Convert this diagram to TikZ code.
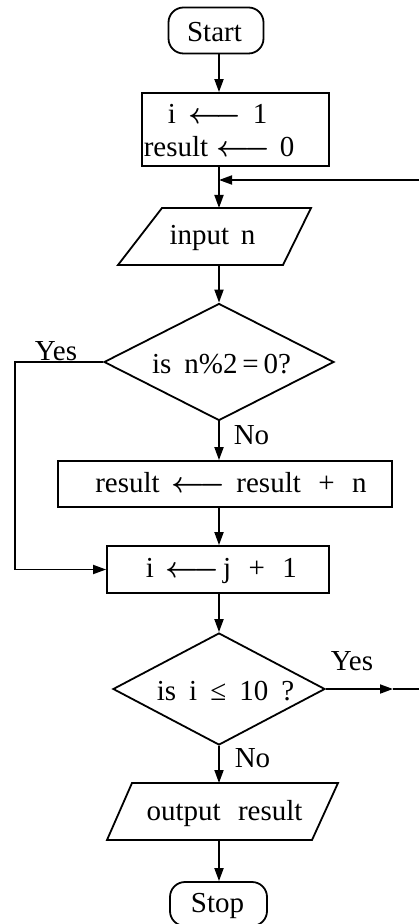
\documentclass[tikz,border=0pt]{standalone}
\usepackage{fontspec}
\setmainfont{Liberation Serif}
\usetikzlibrary{arrows.meta,shapes.geometric}
\newcommand{\asgn}{{\boldmath$\longleftarrow$}}
\begin{document}
\begin{tikzpicture}[x=0.5pt,y=-0.5pt,
 every node/.style={font=\fontsize{14.5}{17}\selectfont},
 line/.style={line width=0.9pt},
 arr/.style={line, -{Triangle[length=6.5pt,width=4.5pt]}},
 term/.style={draw, line width=0.9pt, rectangle, rounded corners=7.5pt, inner sep=0pt},
 procbox/.style={draw, line width=0.9pt, rectangle, inner sep=0pt},
 iobox/.style={draw, line width=0.9pt, line join=miter},
 decision/.style={draw, line width=0.9pt, diamond, aspect=2, inner sep=0pt},
 txt/.style={anchor=base, inner sep=0pt},
]
\useasboundingbox (0,0) rectangle (419,924);
\fill[white] (0,0) rectangle (419,924);
\coordinate (ax) at (219,0);
\coordinate (lx) at (15,0);

% shapes
\node[term, minimum width=47.5pt, minimum height=23pt] (start) at (216,30.5) {};
\node[txt] (startT) at (214.5,42) {Start};

\node[procbox, minimum width=93.5pt, minimum height=36.5pt] (init) at (235.5,129.5) {};
\node[txt] (i1) at (172,124) {i};
\node[txt] (a1) at (215,124) {\asgn};
\node[txt] (v1) at (260,124) {1};
\node[txt] (r2) at (176,157) {result};
\node[txt] (a2) at (243.5,157) {\asgn};
\node[txt] (v2) at (287,157) {0};

\coordinate (inpTL) at (162,208);
\coordinate (inpTR) at (311,208);
\coordinate (inpBR) at (283,265);
\coordinate (inpBL) at (118,265);
\draw[iobox] (inpTL) -- (inpTR) -- (inpBR) -- (inpBL) -- cycle;
\node[txt] (inpT) at (212.5,245) {input\hspace{0.4em}n};

\node[decision, minimum width=115pt, minimum height=58.5pt] (d1) at (219,362) {};
\node[txt] (d1T) at (221.5,373) {is\hspace{0.45em}n\%2\,=\,0?};

\node[procbox, minimum width=167pt, minimum height=23pt] (acc) at (225,484) {};
\node[txt] (accA) at (127.5,492) {result};
\node[txt] (accB) at (198.5,492) {\asgn};
\node[txt] (accC) at (301.5,492) {result\hspace{0.6em}+\hspace{0.6em}n};

\node[procbox, minimum width=111pt, minimum height=23.5pt] (inc) at (218,569.5) {};
\node[txt] (incA) at (150,577) {i};
\node[txt] (incB) at (192.5,577) {\asgn};
\node[txt] (incC) at (260,577) {j\hspace{0.6em}+\hspace{0.6em}1};

\node[decision, minimum width=106pt, minimum height=56pt] (d2) at (219,689) {};
\node[txt] (d2T) at (225.5,700) {is\hspace{0.45em}i\hspace{0.45em}≤\hspace{0.45em}10\hspace{0.45em}?};

\coordinate (outTL) at (132,783);
\coordinate (outTR) at (338,783);
\coordinate (outBR) at (312,840);
\coordinate (outBL) at (107,840);
\draw[iobox] (outTL) -- (outTR) -- (outBR) -- (outBL) -- cycle;
\node[txt] (outT) at (224.5,820) {output\hspace{0.6em}result};

\node[term, minimum width=48.5pt, minimum height=22pt] (stop) at (218.5,904) {};
\node[txt] (stopT) at (217.5,912) {Stop};

% labels
\node[txt] (yes1) at (56,360) {Yes};
\node[txt] (no1) at (251.5,444) {No};
\node[txt] (yes2) at (352,670) {Yes};
\node[txt] (no2) at (252.5,767) {No};

% connectors
\draw[arr] (start.south -| ax) -- (init.north -| ax);
\draw[arr] (init.south -| ax) -- (inpTL -| ax);
\draw[arr] (inpBL -| ax) -- (d1.north);
\draw[arr] (d1.south) -- (acc.north -| ax);
\draw[arr] (acc.south -| ax) -- (inc.north -| ax);
\draw[arr] (inc.south -| ax) -- (d2.north);
\draw[arr] (d2.south) -- (outTL -| ax);
\draw[arr] (outBL -| ax) -- (stop.north -| ax);
\draw[arr] (d1.west) -- (d1.west -| lx) |- (inc.west);
\coordinate (ya) at (393,689);
\coordinate (yr) at (419,689);
\draw[arr] (d2.east) -- (ya);
\draw[line] (ya) -- (yr);
\coordinate (fbR) at (419,180);
\coordinate (fbL) at (219,180);
\draw[arr] (fbR) -- (fbL);
\end{tikzpicture}
\end{document}
